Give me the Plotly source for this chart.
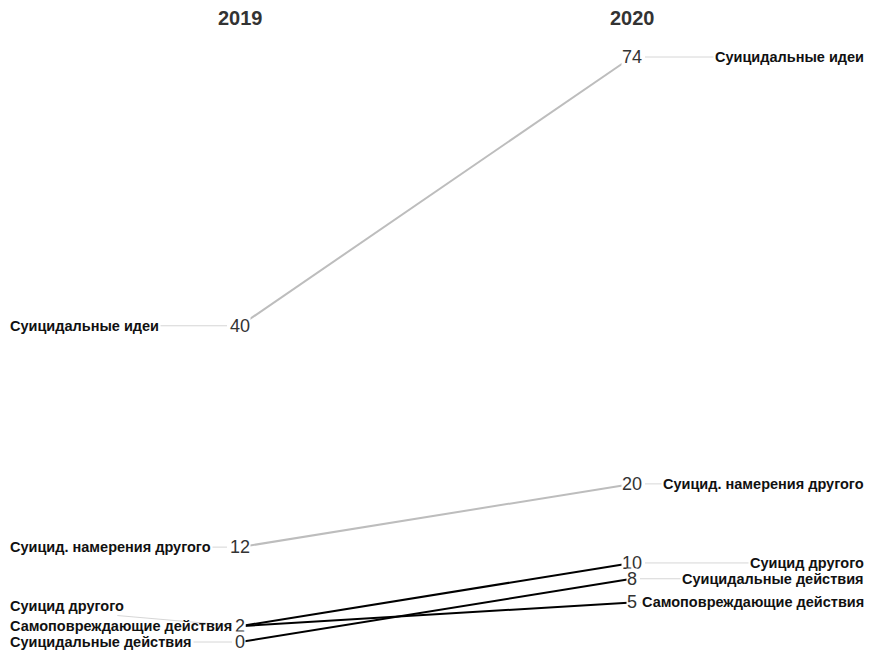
import plotly.graph_objects as go

years = ["2019", "2020"]
categories = [
    "Суицидальные идеи",
    "Суицид. намерения другого",
    "Суицид другого",
    "Самоповреждающие действия",
    "Суицидальные действия",
]
values_2019 = [40, 12, 2, 2, 0]
values_2020 = [74, 20, 10, 5, 8]

# label placement (repelled positions) for the text labels
left_label_y = [40, 12, 4.55, 2, 0]
right_label_y = [74, 20, 10, 5, 8]

line_colors = ["#bdbdbd", "#bdbdbd", "#000000", "#000000", "#000000"]

W, H = 875, 653
OFF = 8  # page body margin
px_per_x = 392.0
x0 = 1 - (240 - OFF) / px_per_x
x1 = x0 + W / px_per_x
px_per_y = (642 - 57) / 74.0
y0 = -(H - (642 - OFF)) / px_per_y
y1 = y0 + H / px_per_y

left_tail_x = x0 + (8 - OFF) / px_per_x
right_tail_x = x0 + (866 - OFF) / px_per_x
year_y = y0 + (H - (18 - OFF)) / px_per_y

FONT = "Liberation Sans, Arial"

fig = go.Figure()
xpos = [1, 2]
for cat, a, b, col in zip(categories, values_2019, values_2020, line_colors):
    fig.add_trace(go.Scatter(x=xpos, y=[a, b], mode="lines",
                             line=dict(color=col, width=2), hoverinfo="skip",
                             showlegend=False))

annotations = []
for i, yr in enumerate(years):
    annotations.append(dict(x=xpos[i], y=year_y, xref="x", yref="y",
                            text="<b>%s</b>" % yr, showarrow=False,
                            font=dict(family=FONT, size=20, color="#333333")))

def standoff(v):
    return 13 if v >= 10 else 8

for cat, v, ly in zip(categories, values_2019, left_label_y):
    annotations.append(dict(x=1, y=v, xref="x", yref="y",
                            ax=left_tail_x, ay=ly, axref="x", ayref="y",
                            xanchor="left", yanchor="middle",
                            text="<b>%s</b>" % cat, showarrow=True, arrowhead=0,
                            arrowwidth=0.8, arrowcolor="#cccccc", standoff=standoff(v),
                            font=dict(family=FONT, size=14.5, color="#111111")))
for cat, v, ly in zip(categories, values_2020, right_label_y):
    annotations.append(dict(x=2, y=v, xref="x", yref="y",
                            ax=right_tail_x, ay=ly, axref="x", ayref="y",
                            xanchor="right", yanchor="middle",
                            text="<b>%s</b>" % cat, showarrow=True, arrowhead=0,
                            arrowwidth=0.8, arrowcolor="#cccccc", standoff=standoff(v),
                            font=dict(family=FONT, size=14.5, color="#111111")))

for vals, xp in zip([values_2019, values_2020], xpos):
    for v in vals:
        annotations.append(dict(x=xp, y=v, xref="x", yref="y", text=str(v),
                                showarrow=False, bgcolor="white", borderpad=0,
                                font=dict(family=FONT, size=18, color="#333333")))

fig.update_layout(
    width=W, height=H,
    margin=dict(l=0, r=0, t=0, b=0),
    paper_bgcolor="white", plot_bgcolor="white",
    xaxis=dict(range=[x0, x1], visible=False, fixedrange=True),
    yaxis=dict(range=[y0, y1], visible=False, fixedrange=True),
    annotations=annotations,
)
fig.write_html("out.html")
